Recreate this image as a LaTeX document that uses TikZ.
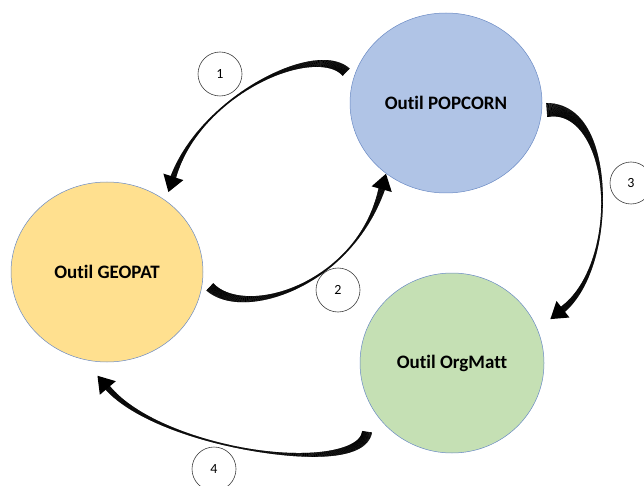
\documentclass[tikz,border=0pt]{standalone}
\usepackage{fontspec}
\setmainfont{Carlito}[Ligatures=CommonOff]
\usepackage{tikz}
\usetikzlibrary{shapes.geometric,decorations.markings}
\definecolor{popblue}{HTML}{B0C4E6}
\definecolor{geoyellow}{HTML}{FFE08F}
\definecolor{orggreen}{HTML}{C5E0B4}
\definecolor{rimblue}{HTML}{6A8AC4}

\begin{document}
\begin{tikzpicture}[
  x=1pt, y=-1pt,
  tool/.style={ellipse, draw=rimblue, line width=0.5pt, minimum width=#1, minimum height=180pt, font=\fontsize{19}{21}\selectfont\bfseries},
  num/.style={circle, draw=black!75, line width=0.6pt, fill=white, minimum size=44pt, font=\fontsize{14}{16}\selectfont},
  tapered/.style n args={4}{
    postaction={decorate, decoration={markings,
      mark=between positions 0 and 1 step 0.4pt with {
        \pgfmathsetmacro\tps{\pgfkeysvalueof{/pgf/decoration/mark info/distance from start}/\pgfdecoratedpathlength}
        \pgfmathsetmacro\tph{0.5*((\tps<#3) ? (#2+(#1-#2)*(1-\tps/#3)^2) : (#2+(#4-#2)*((\tps-#3)/(1-#3))^2))}
        \fill (-0.3pt,-\tph pt) rectangle (0.3pt,\tph pt);}}},
    postaction={decorate, decoration={markings,
      mark=at position 0.999 with {\fill (-1pt,-10.5pt) -- (15pt,0pt) -- (-1pt,10.5pt) -- cycle;}}}}
]
  \useasboundingbox (0,0) rectangle (644,486);
  \node[tool=192pt, fill=popblue]   (pop) at (446,103) {Outil POPCORN};
  \node[tool=192pt, fill=geoyellow] (geo) at (107,272) {Outil GEOPAT};
  \node[tool=184pt, fill=orggreen]  (org) at (452,363) {Outil OrgMatt};
  \node[num] (n1) at (220,74)  {1};
  \node[num] (n2) at (338,290) {2};
  \node[num, minimum size=42pt] (n3) at (631,183) {3};
  \node[num] (n4) at (214,469) {4};
  % curved arrows: tail -> head, widths tail / thinnest / position / before head
  \coordinate (a1) at (346,72);  \coordinate (b1) at (173,178);
  \coordinate (a2) at (210,287); \coordinate (b2) at (382,188);
  \coordinate (a3) at (547,110); \coordinate (b3) at (562,310);
  \coordinate (a4) at (367,432); \coordinate (b4) at (107,387);
  \path[tapered={10}{1.5}{0.6}{6}]  (a1) .. controls (315,42) and (200,95) .. (b1);
  \path[tapered={10}{1.5}{0.65}{7}] (a2) .. controls (245,320) and (355,285) .. (b2);
  \path[tapered={14}{1.5}{0.55}{7}] (a3) .. controls (615,105) and (620,265) .. (b3);
  \path[tapered={10}{1.5}{0.5}{6}]  (a4) .. controls (360,478) and (160,450) .. (b4);
\end{tikzpicture}
\end{document}
